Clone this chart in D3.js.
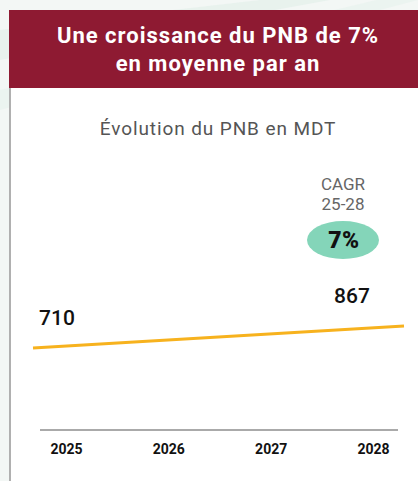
<!DOCTYPE html>
<html>
<head>
<meta charset="utf-8">
<script src="https://cdn.jsdelivr.net/npm/d3@7"></script>
<style>
  html, body { margin: 0; padding: 0; background: #eef4f1; }
  svg { display: block; font-family: Roboto, "DejaVu Sans", sans-serif; }
</style>
</head>
<body>
<div id="chart"></div>
<script>
// chart data
var years = ["2025", "2026", "2027", "2028"];
var pnbYears = ["2025", "2028"];
var pnbValues = [710, 867];
var cagrLabel = ["CAGR", "25-28"];
var cagrValue = "7%";
var titleLines = ["Une croissance du PNB de 7%", "en moyenne par an"];
var subtitle = "Évolution du PNB en MDT";

var width = 418, height = 481;

var svg = d3.select("#chart").append("svg")
  .attr("width", width)
  .attr("height", height);

// faint background streaks
var bg = svg.append("g");
bg.append("rect").attr("width", width).attr("height", height).attr("fill", "#f3f7f5");
bg.append("path").attr("d", "M0,30 L260,0 L330,0 L0,60 Z").attr("fill", "#e2efe9").attr("opacity", 0.7);
bg.append("path").attr("d", "M0,90 L418,-10 L418,0 L0,110 Z").attr("fill", "#e6f1ec").attr("opacity", 0.6);

// white panel
svg.append("rect")
  .attr("x", 9).attr("y", 10)
  .attr("width", width - 9).attr("height", height - 10)
  .attr("fill", "#ffffff");

// header band
svg.append("rect")
  .attr("x", 9).attr("y", 10)
  .attr("width", width - 9).attr("height", 78)
  .attr("fill", "#8e1a32");

svg.selectAll("text.title")
  .data(titleLines)
  .enter().append("text")
  .attr("class", "title")
  .attr("x", 218)
  .attr("y", function(d, i) { return 43 + i * 28; })
  .attr("text-anchor", "middle")
  .attr("fill", "#ffffff")
  .attr("font-size", 22)
  .attr("font-weight", 700)
  .attr("letter-spacing", 1)
  .text(function(d) { return d; });

// left gray border
svg.append("line")
  .attr("x1", 10).attr("x2", 10)
  .attr("y1", 88).attr("y2", height)
  .attr("stroke", "#b0b0b0")
  .attr("stroke-width", 2);

svg.append("text")
  .attr("x", 218).attr("y", 135)
  .attr("text-anchor", "middle")
  .attr("fill", "#555555")
  .attr("font-size", 19)
  .attr("letter-spacing", 0.9)
  .text(subtitle);

// x axis scale for year labels
var x = d3.scalePoint()
  .domain(years)
  .range([66, 373]);

// line scale: spans the full plot width
var xLine = d3.scalePoint()
  .domain(pnbYears)
  .range([33, 404]);

var y = d3.scaleLinear()
  .domain([710, 867])
  .range([348, 326]);

var xAxis = d3.axisBottom(x).tickSize(0).tickPadding(14);

var axisG = svg.append("g")
  .attr("transform", "translate(0,430)")
  .call(xAxis);
axisG.select(".domain").remove();
axisG.selectAll("text")
  .attr("font-family", "Roboto, sans-serif")
  .attr("font-size", 14)
  .attr("font-weight", 700)
  .attr("fill", "#111111");

svg.append("line")
  .attr("x1", 40).attr("x2", 398)
  .attr("y1", 430).attr("y2", 430)
  .attr("stroke", "#aaaaaa")
  .attr("stroke-width", 2);

var points = pnbYears.map(function(d, i) { return [d, pnbValues[i]]; });

svg.append("path")
  .datum(points)
  .attr("fill", "none")
  .attr("stroke", "#f7b21e")
  .attr("stroke-width", 3)
  .attr("d", d3.line()
    .x(function(d) { return xLine(d[0]); })
    .y(function(d) { return y(d[1]); }));

// value labels
var labelX = [57, 352];
svg.selectAll("text.value")
  .data(pnbValues)
  .enter().append("text")
  .attr("class", "value")
  .attr("x", function(d, i) { return labelX[i]; })
  .attr("y", function(d) { return y(d) - 23; })
  .attr("text-anchor", "middle")
  .attr("font-size", 21)
  .attr("font-weight", 500)
  .attr("fill", "#111111")
  .text(function(d) { return d; });

// CAGR bubble
svg.selectAll("text.cagr")
  .data(cagrLabel)
  .enter().append("text")
  .attr("class", "cagr")
  .attr("x", 343)
  .attr("y", function(d, i) { return 190 + i * 20; })
  .attr("text-anchor", "middle")
  .attr("font-size", 17)
  .attr("fill", "#666666")
  .text(function(d) { return d; });

svg.append("ellipse")
  .attr("cx", 343).attr("cy", 240)
  .attr("rx", 36).attr("ry", 19)
  .attr("fill", "#84d5b9");

svg.append("text")
  .attr("x", 344).attr("y", 248)
  .attr("text-anchor", "middle")
  .attr("font-size", 23)
  .attr("font-weight", 900)
  .attr("letter-spacing", 0.5)
  .attr("fill", "#111111")
  .text(cagrValue);
</script>
</body>
</html>
